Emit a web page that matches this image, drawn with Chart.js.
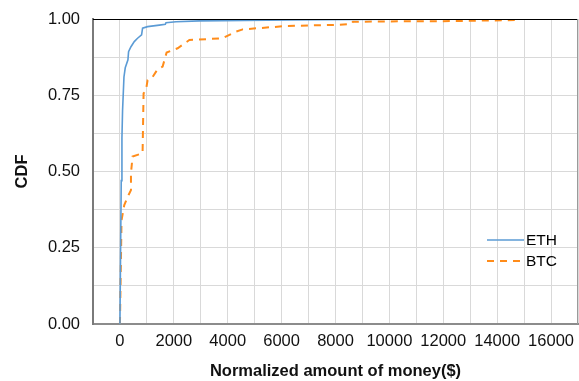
<!DOCTYPE html>
<html><head><meta charset="utf-8">
<script src="https://cdn.jsdelivr.net/npm/chart.js@4/dist/chart.umd.min.js"></script>
<style>html,body{margin:0;padding:0;background:#fff}#wrap{width:579px;height:381px}</style>
</head><body><div id="wrap"><canvas id="c" width="579" height="381"></canvas></div>
<script>
const seriesNames = ['ETH', 'BTC'];
const ethX = [0, 20, 48, 74, 97, 149, 197, 297, 320, 409, 532, 654, 803, 840, 1026, 1461, 1684, 1710, 2082, 2948, 6294, 11200];
const ethY = [0, 0.2, 0.47, 0.61, 0.70, 0.81, 0.84, 0.866, 0.893, 0.909, 0.926, 0.937, 0.948, 0.97, 0.975, 0.98, 0.983, 0.988, 0.991, 0.994, 0.997, 1.0];
const btcX = [0, 59, 160, 320, 409, 409, 468, 840, 877, 967, 1026, 1212, 1398, 1584, 1732, 2141, 2576, 3814, 4312, 4558, 6171, 8089, 8587, 8647, 11126, 12000, 13000, 14844];
const btcY = [0, 0.34, 0.39, 0.423, 0.439, 0.494, 0.549, 0.56, 0.756, 0.767, 0.80, 0.81, 0.835, 0.844, 0.89, 0.904, 0.931, 0.937, 0.959, 0.966, 0.977, 0.981, 0.984, 0.991, 0.993, 0.993, 0.994, 0.997];
const xTickLabels = [0, 2000, 4000, 6000, 8000, 10000, 12000, 14000, 16000];
const yTickLabels = [0, 0.25, 0.5, 0.75, 1.0];

const toPts = (xs, ys) => xs.map((x, i) => ({x: x, y: ys[i]}));
const FONT = "'Liberation Sans', Arial, sans-serif";

const framePlugin = {
  id: 'frame',
  afterDatasetsDraw(chart) {
    const {ctx, chartArea: a} = chart;
    ctx.save();
    ctx.lineWidth = 1;
    ctx.strokeStyle = '#000';
    ctx.beginPath(); ctx.moveTo(a.left, a.top + 0.5); ctx.lineTo(a.right, a.top + 0.5); ctx.stroke();
    ctx.strokeStyle = '#9a9a9a';
    ctx.beginPath(); ctx.moveTo(a.right - 0.5, a.top); ctx.lineTo(a.right - 0.5, a.bottom); ctx.stroke();
    ctx.restore();
  }
};
const legendPlugin = {
  id: 'inlegend',
  afterDraw(chart) {
    const {ctx, chartArea: a} = chart;
    ctx.save();
    chart.data.datasets.forEach((ds, i) => {
      const y = a.top + 221 + i * 21;
      const x0 = a.right - 91;
      ctx.strokeStyle = ds.borderColor;
      ctx.lineWidth = ds.borderWidth;
      ctx.setLineDash(ds.borderDash || []);
      ctx.beginPath(); ctx.moveTo(x0, y); ctx.lineTo(x0 + 37, y); ctx.stroke();
      ctx.setLineDash([]);
      ctx.fillStyle = '#000';
      ctx.font = '15.5px ' + FONT;
      ctx.textBaseline = 'middle';
      ctx.fillText(ds.label, x0 + 39, y + 1);
    });
    ctx.restore();
  }
};

new Chart(document.getElementById('c'), {
  type: 'scatter',
  data: {
    datasets: [
      {label: seriesNames[0], data: toPts(ethX, ethY), showLine: true, borderColor: '#5b9bd5', backgroundColor: '#5b9bd5', borderWidth: 1.6, pointRadius: 0, tension: 0},
      {label: seriesNames[1], data: toPts(btcX, btcY), showLine: true, borderColor: '#ff8c1a', backgroundColor: '#ff8c1a', borderWidth: 2, borderDash: [7, 6], pointRadius: 0, tension: 0}
    ]
  },
  options: {
    responsive: false,
    animation: false,
    layout: {padding: {left: 0, right: 1, top: 19, bottom: 0}},
    plugins: {legend: {display: false}, tooltip: {enabled: false}},
    scales: {
      x: {
        type: 'linear', min: -1000, max: 17000,
        afterFit(s) { s.height = 57; s.paddingLeft = 0; s.paddingRight = 0; },
        ticks: {stepSize: 1000, autoSkip: false, maxRotation: 0, padding: 8, color: '#111', font: {family: FONT, size: 16.5},
          callback: v => xTickLabels.includes(v) ? String(v) : ''},
        grid: {color: '#d9d9d9', lineWidth: 1, drawTicks: false},
        border: {color: '#8c8c8c', width: 2},
        title: {display: true, text: 'Normalized amount of money($)', color: '#111', font: {family: FONT, size: 16.5, weight: 'bold'}, padding: {top: 7, bottom: 0}}
      },
      y: {
        min: 0, max: 1,
        afterFit(s) { s.width = 93; s.paddingTop = 0; s.paddingBottom = 0; },
        ticks: {stepSize: 0.125, autoSkip: false, padding: 13, color: '#111', font: {family: FONT, size: 16.5},
          callback: v => yTickLabels.some(t => Math.abs(t - v) < 1e-9) ? v.toFixed(2) : ''},
        grid: {color: '#d9d9d9', lineWidth: 1, drawTicks: false},
        border: {color: '#7a7a7a', width: 2},
        title: {display: true, text: 'CDF', color: '#111', font: {family: FONT, size: 16.5, weight: 'bold'}, padding: {top: 13, bottom: 0}}
      }
    }
  },
  plugins: [framePlugin, legendPlugin]
});
</script></body></html>
